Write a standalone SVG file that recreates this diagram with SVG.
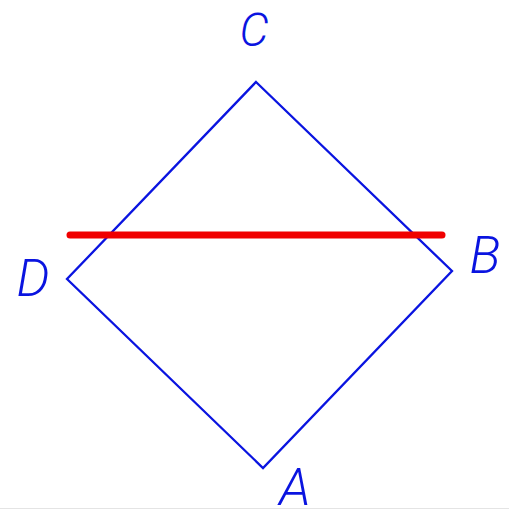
<svg xmlns="http://www.w3.org/2000/svg" width="509" height="517" viewBox="0 0 509 517">
<style>
.lbl{font-family:Roboto,"Liberation Sans",Arial,sans-serif;font-size:52px;font-weight:300;fill:#0a14e0;font-style:italic}
.edge{stroke:#0a14e0;stroke-width:2.3;fill:none}
</style>
<rect width="509" height="517" fill="#fff"/>
<line x1="0" y1="508.5" x2="509" y2="508.5" stroke="#e4e4e4" stroke-width="1.2"/>
<g id="connectors">
<polygon class="edge" points="256,82 452,271 263,468 67,279"/>
<line x1="70" y1="235" x2="442" y2="235" stroke="#f00000" stroke-width="7" stroke-linecap="round"/>
</g>
<g id="node-C"><text class="lbl" x="254" y="46" text-anchor="middle" style="font-size:46px">C</text></g>
<g id="node-D"><text class="lbl" x="33" y="296" text-anchor="middle">D</text></g>
<g id="node-B"><text class="lbl" x="485" y="273" text-anchor="middle">B</text></g>
<g id="node-A"><text class="lbl" x="295" y="505" text-anchor="middle">A</text></g>
</svg>
